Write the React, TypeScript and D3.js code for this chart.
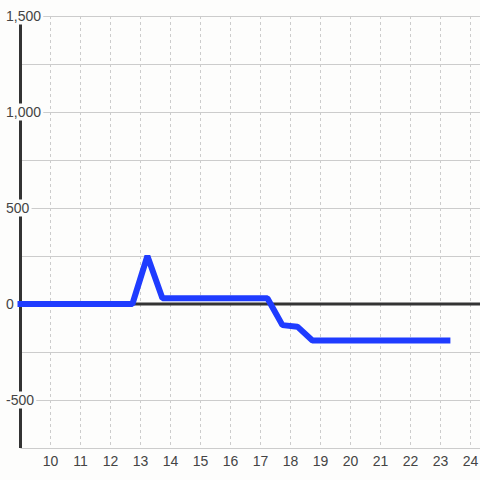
import React, { useEffect, useRef } from "react";
import * as d3 from "d3";

const hours = [8.9, 12.73, 13.23, 13.73, 17.23, 17.73, 18.23, 18.73, 23.33];
const values = [0, 0, 250, 30, 30, -110, -118, -190, -190];
const xTicks = [10, 11, 12, 13, 14, 15, 16, 17, 18, 19, 20, 21, 22, 23, 24];
const xGridTicks = [9, 10, 11, 12, 13, 14, 15, 16, 17, 18, 19, 20, 21, 22, 23, 24];
const yGridTicks = [-750, -500, -250, 0, 250, 500, 750, 1000, 1250, 1500];
const yTicks = [-500, 0, 500, 1000, 1500];
const yTickLabels = ["-500", "0", "500", "1,000", "1,500"];

const W = 480;
const H = 480;
const BG = "#fdfdfc";

export default function App() {
  const ref = useRef<SVGSVGElement | null>(null);

  useEffect(() => {
    const svg = d3.select(ref.current);
    svg.selectAll("*").remove();

    const x = d3.scaleLinear().domain([9, 9 + 459.5 / 30]).range([20.5, 480]);
    const y = d3.scaleLinear().domain([-750, 1500]).range([448, 16]);

    svg.append("rect").attr("width", W).attr("height", H).attr("fill", BG);

    // horizontal grid
    svg
      .append("g")
      .selectAll("line")
      .data(yGridTicks)
      .join("line")
      .attr("x1", x(9))
      .attr("x2", W)
      .attr("y1", (d) => Math.round(y(d)) + 0.5)
      .attr("y2", (d) => Math.round(y(d)) + 0.5)
      .attr("stroke", "#cccccc")
      .attr("stroke-width", 1);

    // vertical dashed grid
    svg
      .append("g")
      .selectAll("line")
      .data(xGridTicks)
      .join("line")
      .attr("x1", (d) => x(d))
      .attr("x2", (d) => x(d))
      .attr("y1", y(1500))
      .attr("y2", y(-750))
      .attr("stroke", "#cccccc")
      .attr("stroke-width", 1)
      .attr("stroke-dasharray", "3,3");

    // zero line
    svg
      .append("line")
      .attr("x1", x(9))
      .attr("x2", W)
      .attr("y1", y(0))
      .attr("y2", y(0))
      .attr("stroke", "#333333")
      .attr("stroke-width", 3);

    // y axis line
    svg
      .append("line")
      .attr("x1", x(9))
      .attr("x2", x(9))
      .attr("y1", y(1500))
      .attr("y2", y(-750))
      .attr("stroke", "#333333")
      .attr("stroke-width", 3);

    // y labels with background
    const yl = svg.append("g");
    yTicks.forEach((t, i) => {
      const g = yl.append("g");
      const txt = g
        .append("text")
        .attr("x", 6)
        .attr("y", y(t))
        .attr("dy", "0.35em")
        .attr("font-family", "'Liberation Sans', Arial, sans-serif")
        .attr("font-size", 14)
        .attr("fill", "#444444")
        .text(yTickLabels[i]);
      const bb = (txt.node() as SVGTextElement).getBBox();
      g.insert("rect", "text")
        .attr("x", bb.x - 2)
        .attr("y", y(t) - 8.5)
        .attr("width", bb.width + 4)
        .attr("height", 17)
        .attr("fill", BG);
    });

    // x labels
    svg
      .append("g")
      .selectAll("text")
      .data(xTicks)
      .join("text")
      .attr("x", (d) => x(d))
      .attr("y", 466)
      .attr("text-anchor", "middle")
      .attr("font-family", "'Liberation Sans', Arial, sans-serif")
      .attr("font-size", 14)
      .attr("fill", "#444444")
      .text((d) => String(d));

    // data line
    const pts = hours.map((h, i) => [h, values[i]] as [number, number]);
    const line = d3
      .line<[number, number]>()
      .x((d) => x(d[0]))
      .y((d) => y(d[1]));
    svg
      .append("path")
      .attr("d", line(pts))
      .attr("fill", "none")
      .attr("stroke", "#1f3cff")
      .attr("stroke-width", 6)
      .attr("stroke-linejoin", "bevel");
  }, []);

  return (
    <svg
      ref={ref}
      width={W}
      height={H}
      style={{ position: "fixed", left: 0, top: 0, display: "block" }}
    />
  );
}
